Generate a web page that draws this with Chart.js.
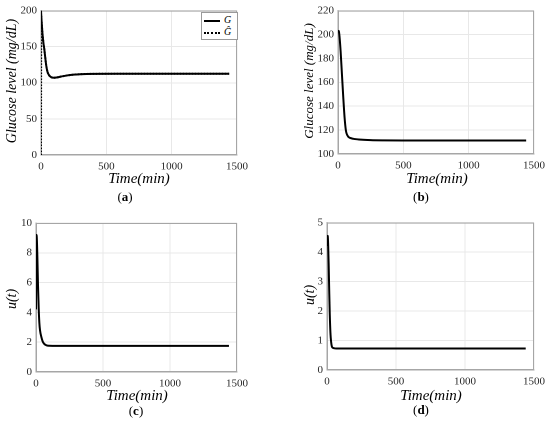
<!DOCTYPE html>
<html>
<head>
<meta charset="utf-8">
<script src="https://cdn.jsdelivr.net/npm/chart.js@4/dist/chart.umd.min.js"></script>
<style>
  body { margin: 0; background: #fff; }
  #page { position: relative; width: 550px; height: 425px; overflow: hidden; font-family: 'Liberation Serif', serif; }
  .panel { position: absolute; }
  .cap { position: absolute; font-size: 13px; transform: translate(-50%, -50%); color: #000; white-space: nowrap; }
  .xt { position: absolute; font-size: 15px; font-style: italic; transform: translate(-50%, -50%); white-space: nowrap; }
  .yt { position: absolute; font-style: italic; transform: translate(-50%, -50%) rotate(-90deg); white-space: nowrap; }
  .legend { position: absolute; left: 201px; top: 12px; width: 35px; height: 26px; border: 1px solid #9a9a9a; background: #fff; font-style: italic; font-size: 10px; }
  .legend .row { position: absolute; left: 2px; height: 10px; line-height: 10px; }
  .legend .sample { position: absolute; left: 0; top: 5px; width: 16px; }
  .legend .txt { position: absolute; left: 20px; top: 0; }
</style>
</head>
<body>
<div id="page">
  <canvas class="panel" id="pa" style="left:0;top:0;width:275px;height:212px"></canvas>
  <canvas class="panel" id="pb" style="left:275px;top:0;width:275px;height:212px"></canvas>
  <canvas class="panel" id="pc" style="left:0;top:212px;width:275px;height:213px"></canvas>
  <canvas class="panel" id="pd" style="left:275px;top:212px;width:275px;height:213px"></canvas>
  <div class="legend">
    <div class="row" style="top:2px"><div class="sample" style="border-top:2px solid #000"></div><span class="txt">G</span></div>
    <div class="row" style="top:14px"><div class="sample" style="border-top:2px dotted #000"></div><span class="txt">G&#770;</span></div>
  </div>
  <div class="xt" style="left:139px;top:178px">Time(min)</div>
  <div class="xt" style="left:437px;top:178px">Time(min)</div>
  <div class="xt" style="left:137px;top:395px">Time(min)</div>
  <div class="xt" style="left:431px;top:395px">Time(min)</div>
  <div class="yt" style="left:12px;top:81px;font-size:14px">Glucose level (mg/dL)</div>
  <div class="yt" style="left:309px;top:81px;font-size:13px">Glucose level (mg/dL)</div>
  <div class="yt" style="left:12px;top:299px;font-size:14px">u(t)</div>
  <div class="yt" style="left:310px;top:295px;font-size:14px">u(t)</div>
  <div class="cap" style="left:125px;top:197px">(<b>a</b>)</div>
  <div class="cap" style="left:421px;top:197px">(<b>b</b>)</div>
  <div class="cap" style="left:136px;top:411px">(<b>c</b>)</div>
  <div class="cap" style="left:421px;top:410px">(<b>d</b>)</div>
</div>
<script>
// (a) glucose level and its estimate
const timeA = [0, 5, 10, 15, 20, 25, 30, 40, 50, 60, 70, 80, 100, 125, 150, 200, 250, 300, 400, 600, 1000, 1440];
const glucoseA = [200, 184, 171, 161, 153, 147, 139, 124, 115, 111, 108.8, 107.6, 107, 107.5, 108.5, 110.2, 111.3, 111.9, 112.4, 112.5, 112.5, 112.5];
const timeHatA = [0, 2, 5, 10, 15, 20, 25, 30, 40, 50, 60, 70, 80, 100, 125, 150, 200, 250, 300, 400, 600, 1000, 1440];
const glucoseHatA = [0, 192, 184, 171, 161, 153, 147, 139, 124, 115, 111, 108.8, 107.6, 107, 107.5, 108.5, 110.2, 111.3, 111.9, 112.4, 112.5, 112.5, 112.5];

// (b) glucose level
const timeB = [0, 5, 10, 20, 30, 40, 50, 60, 75, 100, 130, 175, 250, 350, 500, 1000, 1440];
const glucoseB = [202, 203, 200, 186, 167, 148, 131, 120, 115, 113.2, 112.5, 112, 111.6, 111.4, 111.3, 111.3, 111.3];

// (c) control input
const timeC = [0, 3, 6, 10, 15, 20, 25, 30, 40, 50, 60, 80, 100, 150, 300, 600, 1000, 1440];
const inputC = [4.2, 9.2, 9.0, 7.8, 5.8, 4.3, 3.3, 2.8, 2.35, 2.05, 1.9, 1.78, 1.76, 1.75, 1.75, 1.75, 1.75, 1.75];

// (d) control input
const timeD = [0, 2, 5, 8, 12, 16, 20, 25, 30, 35, 40, 50, 70, 100, 300, 1000, 1440];
const inputD = [4.2, 4.5, 4.55, 4.3, 3.6, 2.7, 1.9, 1.25, 0.95, 0.8, 0.76, 0.74, 0.73, 0.73, 0.73, 0.73, 0.73];

const timeTicks = [0, 500, 1000, 1500];

Chart.defaults.font.family = 'Liberation Serif';
const pts = (xs, ys) => xs.map((x, i) => ({ x: x, y: ys[i] }));

// gray box round the plot area, like matlab's "box on"
const boxPlugin = {
  id: 'box',
  beforeDatasetsDraw(chart) {
    const a = chart.chartArea, c = chart.ctx;
    c.save();
    c.strokeStyle = '#a6a6a6';
    c.lineWidth = 1;
    c.strokeRect(a.left + 0.5, a.top + 0.5, a.right - a.left - 1, a.bottom - a.top - 1);
    c.restore();
  }
};

function makePanel(id, cfg) {
  new Chart(document.getElementById(id), {
    type: 'line',
    data: { datasets: cfg.datasets },
    options: {
      responsive: false,
      animation: false,
      devicePixelRatio: 2,
      layout: { padding: { top: cfg.pad[0], right: cfg.pad[1], bottom: 0, left: 0 } },
      plugins: { legend: { display: false }, tooltip: { enabled: false } },
      elements: { point: { radius: 0 }, line: { cubicInterpolationMode: 'monotone' } },
      scales: {
        x: {
          type: 'linear', min: 0, max: 1500,
          afterBuildTicks: s => { s.ticks = timeTicks.map(v => ({ value: v })); },
          afterFit: s => { s.height = cfg.xh; },
          grid: { color: '#e8e8e8', drawTicks: false },
          border: { color: '#a6a6a6' },
          ticks: { padding: 5, color: '#262626', font: { size: 11 }, maxRotation: 0,
                   callback: v => String(v) }
        },
        y: {
          min: cfg.ymin, max: cfg.ymax,
          ticks: { stepSize: cfg.ystep, padding: 4, color: '#262626', font: { size: 11 },
                   callback: v => String(v) },
          afterFit: s => { s.width = cfg.yw; },
          grid: { color: '#e8e8e8', drawTicks: false },
          border: { color: '#a6a6a6' }
        }
      }
    },
    plugins: [boxPlugin]
  });
}

const solid = (data) => ({ data: data, borderColor: '#000', borderWidth: 2, fill: false });

makePanel('pa', {
  datasets: [
    solid(pts(timeA, glucoseA)),
    { data: pts(timeHatA, glucoseHatA), borderColor: '#000', borderWidth: 2, borderDash: [1.5, 1.5], fill: false }
  ],
  pad: [7, 38], yw: 41, xh: 57, ymin: 0, ymax: 200, ystep: 50
});

makePanel('pb', {
  datasets: [solid(pts(timeB, glucoseB))],
  pad: [8, 15], yw: 63, xh: 58, ymin: 100, ymax: 220, ystep: 20
});

makePanel('pc', {
  datasets: [solid(pts(timeC, inputC))],
  pad: [11, 38], yw: 36, xh: 53, ymin: 0, ymax: 10, ystep: 2
});

makePanel('pd', {
  datasets: [solid(pts(timeD, inputD))],
  pad: [8, 16], yw: 52, xh: 55, ymin: 0, ymax: 5, ystep: 1
});
</script>
</body>
</html>
